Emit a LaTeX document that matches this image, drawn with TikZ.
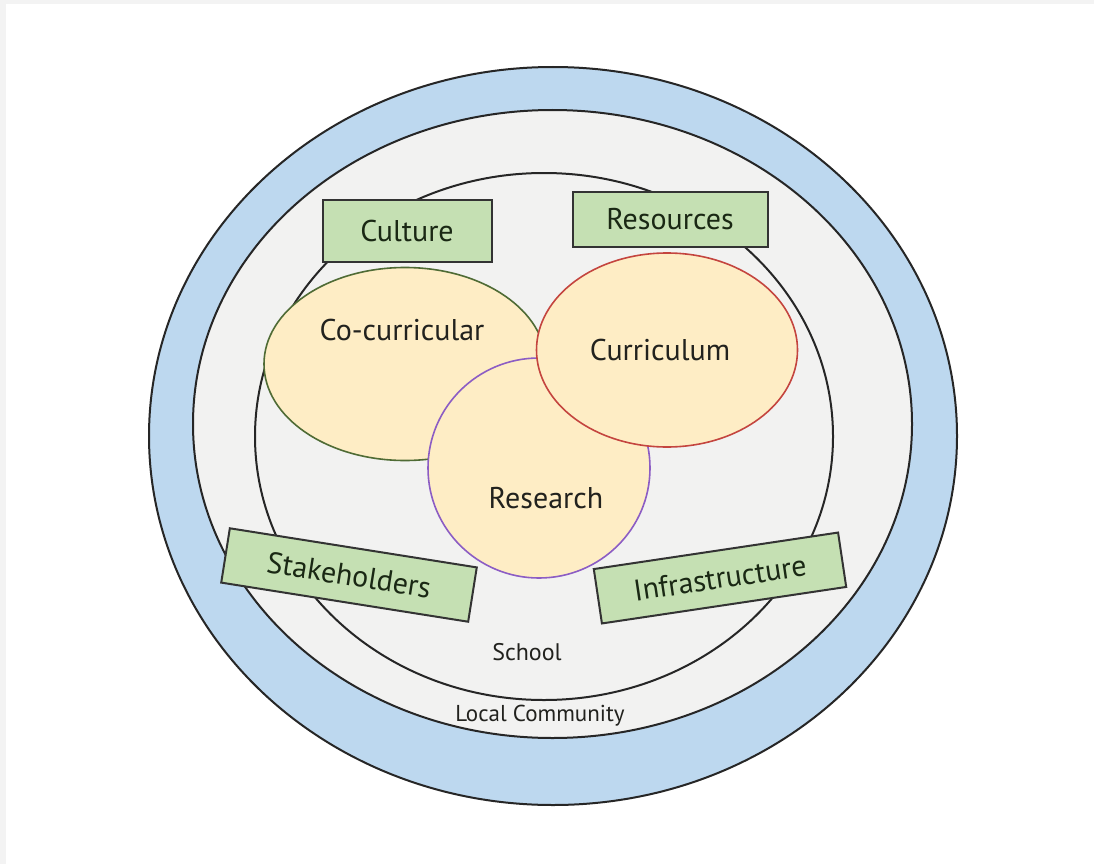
\documentclass[tikz,border=0pt]{standalone}
\usepackage{fontspec}
\setmainfont{PT Sans}
\usetikzlibrary{shapes.geometric}
\definecolor{framegray}{HTML}{F3F3F3}
\definecolor{ringblue}{HTML}{BDD8EF}
\definecolor{areagray}{HTML}{F2F2F1}
\definecolor{zonefill}{HTML}{FEEDC5}
\definecolor{boxgreen}{HTML}{C5E0B3}
\definecolor{boxtext}{HTML}{1A2814}
\definecolor{txt}{HTML}{22221E}
\definecolor{cocurline}{HTML}{4F6B35}
\definecolor{currline}{HTML}{C4453F}
\definecolor{resline}{HTML}{8C5DC4}

\begin{document}
\begin{tikzpicture}[x=1pt,y=-1pt,
    ring/.style={ellipse,draw=black!85,line width=2pt,inner sep=0pt},
    zone/.style={ellipse,fill=zonefill,line width=1.6pt,inner sep=0pt},
    factor/.style={rectangle,draw=black!80,fill=boxgreen,line width=2pt,inner sep=0pt,
        text=boxtext,font=\fontsize{30}{34}\selectfont},
    tag/.style={text=txt,font=\fontsize{30}{34}\selectfont}]
    \useasboundingbox (0,0) rectangle (1094,864);
    \fill[framegray] (0,0) rectangle (1094,864);
    \fill[white] (6,4) rectangle (1094,864);
    % nested rings
    \node[ring,fill=ringblue,minimum width=808pt,minimum height=738pt] (community) at (553,436) {};
    \node[ring,fill=areagray,minimum width=719pt,minimum height=628pt] (local) at (552.5,424) {};
    \node[ring,fill=areagray,minimum width=578pt,minimum height=527pt] (school) at (544,436.5) {};
    % overlapping areas
    \node[zone,draw=cocurline,minimum width=282pt,minimum height=193pt] (cocurr) at (405,364) {};
    \node[zone,draw=resline,minimum width=222pt,minimum height=220pt] (research) at (539,468) {};
    \node[zone,draw=currline,minimum width=261pt,minimum height=194pt] (curr) at (667,350) {};
    \node[tag] (cocurrtxt) at (402,330) {Co-curricular};
    \node[tag] (currtxt) at (660,350) {Curriculum};
    \node[tag] (researchtxt) at (546,498) {Research};
    % factors
    \node[factor,minimum width=169pt,minimum height=62pt] (culture) at (407,231) {Culture};
    \node[factor,minimum width=195pt,minimum height=55pt] (resources) at (670,219) {Resources};
    \node[factor,minimum width=250pt,minimum height=55pt,rotate=-9] (stake) at (349,575) {Stakeholders};
    \node[factor,minimum width=247pt,minimum height=55pt,rotate=8.5] (infra) at (720,578) {Infrastructure};
    \node[tag,font=\fontsize{24}{28}\selectfont] (schooltxt) at (527,652) {School};
    \node[tag,font=\fontsize{23}{27}\selectfont] (localtxt) at (540,716) {Local Community};
\end{tikzpicture}
\end{document}
